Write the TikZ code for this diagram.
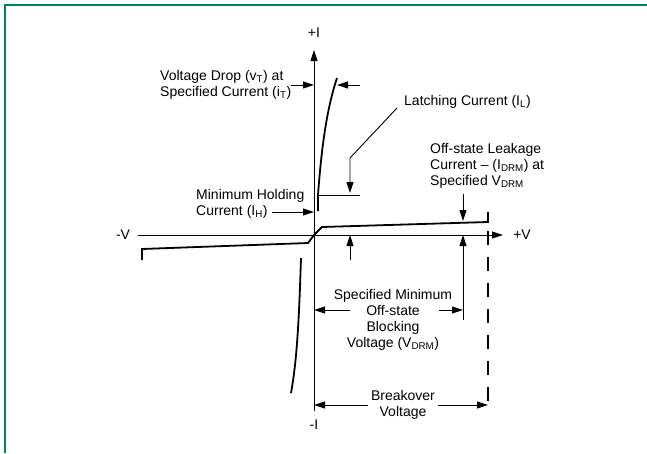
\documentclass[tikz,border=0pt]{standalone}
\usepackage{fontspec}
\setmainfont{Liberation Sans}
\usetikzlibrary{arrows.meta}
\tikzset{>={Triangle[length=11pt,width=7pt]}}
\definecolor{framegreen}{RGB}{0,133,88}
\tikzset{
  lbl/.style={font=\fontsize{14}{16}\selectfont, inner sep=0pt},
  curve/.style={line width=1.8pt},
  pointer/.style={->, line width=0.9pt},
}

\begin{document}
\begin{tikzpicture}[x=1pt, y=-1pt]
  \useasboundingbox (0,0) rectangle (647,453);
  \draw[framegreen, line width=2pt] (5,453) -- (5,5) -- (647,5);

  % axes
  \coordinate (O) at (314,235);
  \coordinate (Vn) at (138,235);
  \coordinate (Vp) at (503,235);
  \coordinate (In) at (314,411);
  \coordinate (Ip) at (314,50);
  \draw[pointer] (Vn) -- (Vp);
  \draw[pointer] (In) -- (Ip);
  \node[lbl] (pI) at (314,33) {+I};
  \node[lbl] (nI) at (314,425) {-I};
  \node[lbl] (nV) at (123,235) {-V};
  \node[lbl] (pV) at (522,235) {+V};

  % characteristic
  \coordinate (on0) at (318,211);
  \coordinate (on1) at (318,195);
  \coordinate (onT) at (337,78);
  \draw[curve] (on0) -- (on1) .. controls (322,140) and (328,105) .. (onT);
  \coordinate (off1) at (322,227);
  \coordinate (off2) at (488,222);
  \coordinate (off3) at (488,212);
  \draw[curve] (O) -- (off1) -- (off2) -- (off3);
  \coordinate (rev1) at (308,243);
  \coordinate (rev2) at (142,249);
  \coordinate (rev3) at (142,260);
  \draw[curve] (O) -- (rev1) -- (rev2) -- (rev3);
  \coordinate (bd0) at (301,258);
  \coordinate (bd1) at (291,393);
  \draw[curve] (bd0) .. controls (299,320) and (297,360) .. (bd1);
  \coordinate (bo0) at (488,231);
  \coordinate (bo1) at (488,408);
  \draw[line width=2.6pt, dash pattern=on 14pt off 12pt] (bo0) -- (bo1);

  % on-state drop
  \node[lbl, anchor=west, align=left] (vdrop) at (160,85) {Voltage Drop (v\textsubscript{T}) at\\Specified Current (i\textsubscript{T})};
  \coordinate (vdR) at (360,85);
  \draw[pointer] (vdrop.east) -- (vdrop.east -| O);
  \draw[pointer] (vdR) -- (vdR -| onT);

  % holding and latching
  \node[lbl, anchor=west, align=left] (hold) at (196,204) {Minimum Holding\\Current (I\textsubscript{H})};
  \coordinate (hd) at (272,212);
  \draw[pointer] (hd) -- (hd -| O);
  \node[lbl, anchor=west] (latch) at (404,102) {Latching Current (I\textsubscript{L})};
  \coordinate (lt1) at (397,108);
  \coordinate (lt2) at (350,158);
  \coordinate (lt3) at (350,193);
  \coordinate (lvl) at (360,195);
  \draw[pointer] (lt1) -- (lt2) -- (lt3);
  \draw[line width=0.9pt] (on1) -- (lvl);

  % leakage
  \node[lbl, anchor=west, align=left] (leak) at (430,166) {Off-state Leakage\\Current -- (I\textsubscript{DRM}) at\\Specified V\textsubscript{DRM}};
  \coordinate (lk0) at (463,194);
  \coordinate (lk1) at (463,221);
  \draw[pointer] (lk0) -- (lk1);
  \coordinate (up1) at (350,260);
  \coordinate (up2) at (463,320);
  \draw[pointer] (up1) -- (up1 |- O);
  \draw[pointer] (up2) -- (up2 |- O);

  % blocking voltage
  \node[lbl, align=center] (vdrm) at (393,320) {Specified Minimum\\Off-state\\Blocking\\Voltage (V\textsubscript{DRM})};
  \coordinate (bl0) at (350,310);
  \coordinate (bl1) at (439,310);
  \draw[pointer] (bl0) -- (bl0 -| O);
  \draw[pointer] (bl1) -- (bl1 -| up2);

  % breakover
  \node[lbl, align=center] (bover) at (403,405) {Breakover\\Voltage};
  \draw[pointer] ([xshift=-3pt]bover.west) -- (bover.west -| O);
  \draw[pointer] ([xshift=3pt]bover.east) -- (bover.east -| bo1);
\end{tikzpicture}
\end{document}
